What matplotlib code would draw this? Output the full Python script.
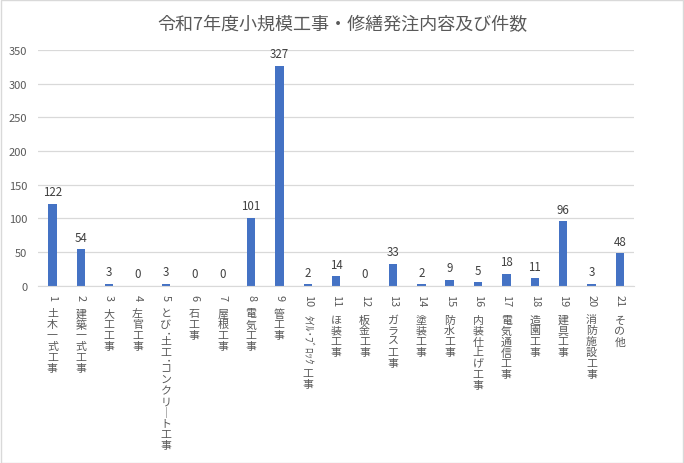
import matplotlib
matplotlib.use("Agg")
import matplotlib.pyplot as plt
from matplotlib.patches import Rectangle

plt.rcParams['font.family'] = ['Noto Sans CJK JP', 'DejaVu Sans']

# data
title = "令和7年度小規模工事・修繕発注内容及び件数"
numbers = ["1", "2", "3", "4", "5", "6", "7", "8", "9", "10", "11",
           "12", "13", "14", "15", "16", "17", "18", "19", "20", "21"]
names = ["土木一式工事", "建築一式工事", "大工工事", "左官工事",
         "とび・土工・コンクリート工事", "石工事", "屋根工事", "電気工事",
         "管工事", "ﾀｲﾙ･ﾌﾞﾛｯｸ工事", "ほ装工事", "板金工事", "ガラス工事",
         "塗装工事", "防水工事", "内装仕上げ工事", "電気通信工事", "造園工事",
         "建具工事", "消防施設工事", "その他"]
counts = [122, 54, 3, 0, 3, 0, 0, 101, 327, 2, 14, 0, 33, 2, 9, 5, 18, 11, 96, 3, 48]
yticks = [0, 50, 100, 150, 200, 250, 300, 350]

bar_color = "#4472C4"
grid_color = "#D9D9D9"
text_color = "#595959"

fig = plt.figure(figsize=(6.84, 4.64), dpi=100)
ax = fig.add_axes([0.056, 0.382, 0.871, 0.508])

x = list(range(len(counts)))
ax.bar(x, counts, width=0.3, color=bar_color, zorder=2)
ax.set_xlim(-0.5, len(counts) - 0.5)
ax.set_ylim(0, 350)
ax.set_yticks(yticks)
ax.yaxis.grid(True, color=grid_color, linewidth=0.9, zorder=0)
ax.tick_params(axis='y', length=0, labelsize=8, labelcolor=text_color, pad=8)
ax.tick_params(axis='x', length=0, labelbottom=False)
for s in ["top", "right", "left"]:
    ax.spines[s].set_visible(False)
ax.spines["bottom"].set_color(grid_color)

# value labels
for i, v in enumerate(counts):
    ax.annotate(str(v), (i, v), xytext=(0, 4), textcoords="offset points",
                ha="center", va="bottom", fontsize=8.3, color="#404040")

fig.text(0.5, 1 - 25 / 464, title, ha="center", va="center",
         fontsize=13, color=text_color)


# vertical (stacked) category labels: half-width runs are turned,
# full-width characters stand upright one under the other
def is_half(ch):
    return ch.isascii() or 0xFF61 <= ord(ch) <= 0xFF9F


fig.canvas.draw()
renderer = fig.canvas.get_renderer()
fs = 7.9
adv = fs
for i, (num, name) in enumerate(zip(numbers, names)):
    runs = [(num, True)]
    cur = ""
    cur_half = None
    for ch in name.replace("・", "･"):
        h = is_half(ch)
        if cur and h != cur_half:
            runs.append((cur, cur_half))
            cur = ""
        cur += ch
        cur_half = h
    if cur:
        runs.append((cur, cur_half))
    pos = 6.0
    for k, (txt, rot) in enumerate(runs):
        if rot:
            t = ax.annotate(txt, (i, 0), xycoords=("data", "axes fraction"),
                            xytext=(0, -pos), textcoords="offset points",
                            rotation=-90, ha="center", va="top",
                            fontsize=fs, color=text_color)
            ext = t.get_window_extent(renderer)
            pos += ext.height * 72 / fig.dpi
            if k == 0:
                pos += 0.7 * fs
            elif len(txt) > 1:
                pos += 0.35 * fs
        else:
            for ch in txt:
                if ch == "ー":
                    ch = "｜"
                ax.annotate(ch, (i, 0), xycoords=("data", "axes fraction"),
                            xytext=(0, -(pos + adv / 2)),
                            textcoords="offset points",
                            ha="center", va="center",
                            fontsize=fs, color=text_color)
                pos += adv

fig.add_artist(Rectangle((0.001, 0.001), 0.997, 0.997, transform=fig.transFigure,
                         fill=False, edgecolor=grid_color, linewidth=1))

fig.savefig("out.png", dpi=100)
